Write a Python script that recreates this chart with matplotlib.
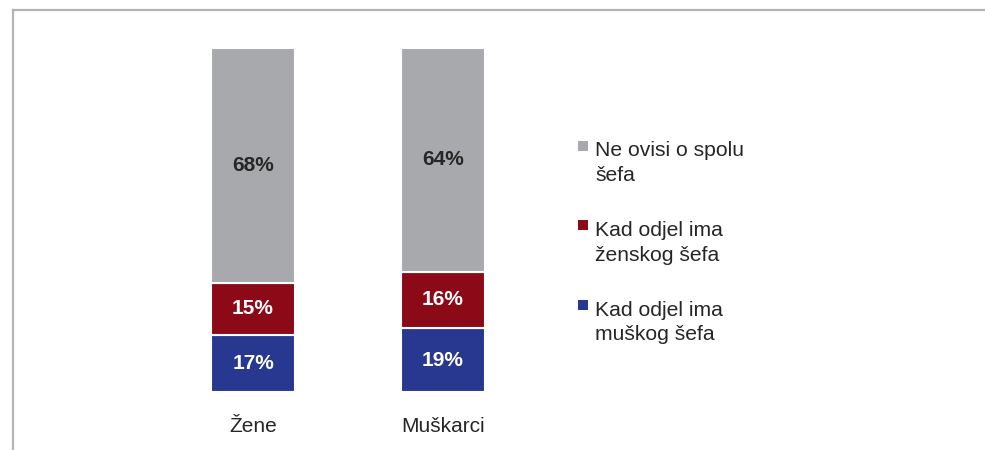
import matplotlib
matplotlib.use("Agg")
import matplotlib.pyplot as plt
from matplotlib.lines import Line2D
from matplotlib.patches import Rectangle

plt.rcParams["font.family"] = ["Liberation Sans", "DejaVu Sans"]

categories = ["Žene", "Muškarci"]
series_names = ["Kad odjel ima\nmuškog šefa", "Kad odjel ima\nženskog šefa", "Ne ovisi o spolu\nšefa"]
# bar heights (share, %) as drawn, and the rounded labels printed on them
muski_sef = [16.6, 18.6]
zenski_sef = [15.1, 16.3]
ne_ovisi = [68.3, 65.1]
muski_sef_lbl = [17, 19]
zenski_sef_lbl = [15, 16]
ne_ovisi_lbl = [68, 64]
colors = ["#283891", "#8C0A17", "#A7A9AC"]
label_colors = ["white", "white", "#262626"]

fig = plt.figure(figsize=(9.85, 4.5), dpi=100)
ax = fig.add_axes([158 / 985, 58 / 450, 380 / 985, 344 / 450])

x = list(range(len(categories)))
bottom = [0, 0]
stack = [(muski_sef, muski_sef_lbl), (zenski_sef, zenski_sef_lbl), (ne_ovisi, ne_ovisi_lbl)]
for (vals, lbls), col, tcol in zip(stack, colors, label_colors):
    ax.bar(x, vals, bottom=bottom, width=0.442, color=col,
           edgecolor="white", linewidth=1.5)
    for xi, v, b, lb in zip(x, vals, bottom, lbls):
        ax.text(xi, b + v / 2, f"{lb}%", ha="center", va="center",
                fontsize=15, fontweight="bold", color=tcol)
    bottom = [b + v for b, v in zip(bottom, vals)]

ax.set_xlim(-0.5, 1.5)
ax.set_ylim(0, 100)
ax.set_xticks(x)
ax.set_xticklabels(categories, fontsize=15, color="#262626")
ax.tick_params(axis="x", length=0, pad=18)
ax.set_yticks([])
for s in ax.spines.values():
    s.set_visible(False)
ax.patch.set_visible(False)

# legend, drawn by hand so the square sits on the first line of each entry
leg_items = list(zip(series_names, colors))[::-1]
for i, (name, col) in enumerate(leg_items):
    ytop = 1 - (141 + i * 79.5) / 450
    fig.add_artist(Rectangle((578 / 985, ytop - 10 / 450), 10 / 985, 10 / 450,
                             transform=fig.transFigure, color=col, lw=0))
    fig.text(595 / 985, ytop - 0.5 / 450, name, ha="left", va="top",
             fontsize=15.2, color="#262626", linespacing=1.38)

# frame lines (top and left)
fig.add_artist(Line2D([12.5 / 985, 1], [1 - 10 / 450, 1 - 10 / 450],
                      transform=fig.transFigure, color="#B4B4B4", lw=1.6))
fig.add_artist(Line2D([12.5 / 985, 12.5 / 985], [0, 1 - 10 / 450],
                      transform=fig.transFigure, color="#B4B4B4", lw=1.6))

fig.savefig("out.png", dpi=100)
